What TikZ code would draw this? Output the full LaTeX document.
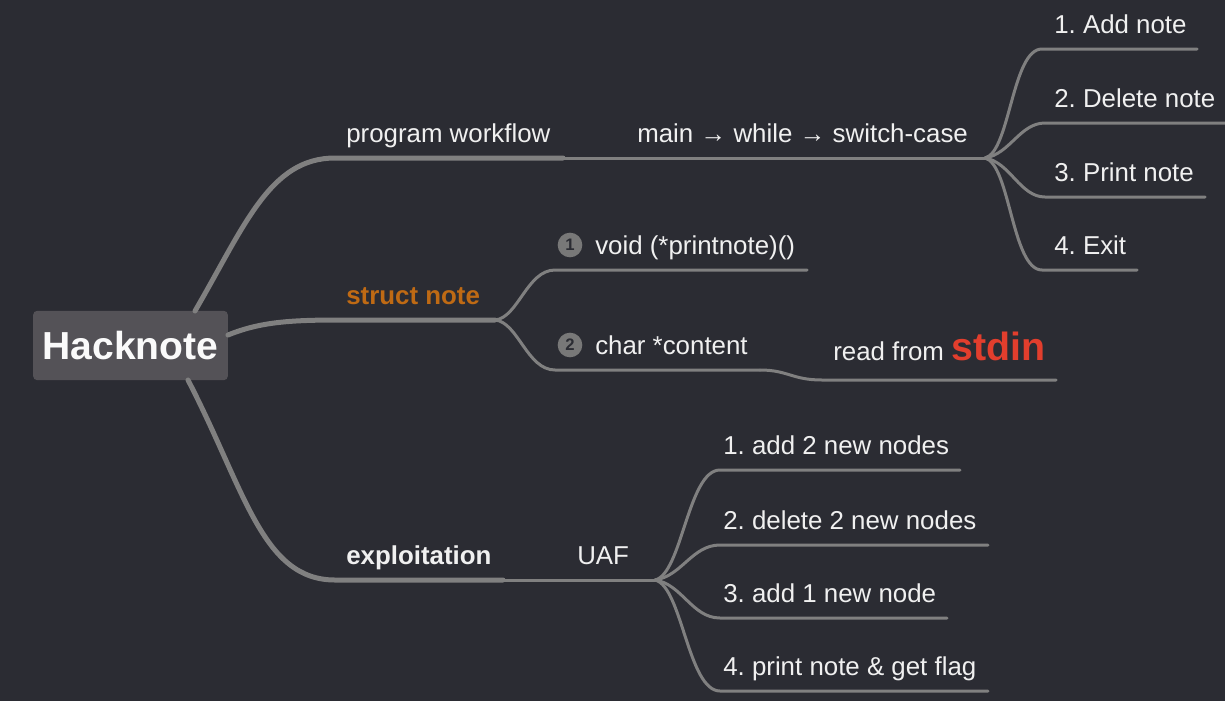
\documentclass[tikz,border=0pt]{standalone}
\usepackage{fontspec}
\setmainfont{Liberation Sans}
\usepackage{tikz}
\frenchspacing

\begin{document}
\begin{tikzpicture}[x=0.75pt,y=0.75pt,yscale=-1,xscale=1,
  branch/.style={draw={rgb, 255:red, 128; green, 128; blue, 128}, line width=3.75pt, line cap=round},
  twig/.style={draw={rgb, 255:red, 128; green, 128; blue, 128}, line width=2.25pt, line cap=round},
  txt/.style={anchor=base west, inner sep=0pt, text={rgb, 255:red, 240; green, 240; blue, 240}, font=\fontsize{19.4}{23}\selectfont},
  numdot/.style={circle, fill={rgb, 255:red, 120; green, 120; blue, 120}, minimum size=18.5pt, inner sep=0pt, text={rgb, 255:red, 43; green, 44; blue, 51}, font=\bfseries\fontsize{12.5}{13}\selectfont}]
\useasboundingbox (0,0) rectangle (1225,701);
%Shape: Rectangle [id:bg]
\fill [color={rgb, 255:red, 43; green, 44; blue, 51 }] (0,0) rectangle (1225,701);

%Shape: Rounded Rect [id:root]
\node (hack) [fill={rgb, 255:red, 84; green, 82; blue, 87}, rounded corners=3pt, minimum width=146pt, minimum height=52pt, text={rgb, 255:red, 250; green, 250; blue, 250}, font=\bfseries\fontsize{29.3}{32}\selectfont] at (130.5,345.5) {Hacknote};

%Coordinates of branch ends
\coordinate (r1) at (195,311);
\coordinate (r2) at (228,335);
\coordinate (r3) at (188,380);
\coordinate (pwend) at (563,158);
\coordinate (pwfork) at (985,158);
\coordinate (snfork) at (495,320);
\coordinate (cend) at (760,370);
\coordinate (exend) at (503,580);
\coordinate (uaffork) at (655,580);

% Text Node
\node (pw) [txt] at (346,142) {program workflow};
\node (mws) [txt] at (637,142) {main → while → switch-case};
\node (add) [txt] at (1054,33) {1. Add note};
\node (del) [txt] at (1054,107) {2. Delete note};
\node (prt) [txt] at (1054,181) {3. Print note};
\node (ext) [txt] at (1054,254) {4. Exit};
\node (sn) [txt, text={rgb, 255:red, 191; green, 106; blue, 20}, font=\bfseries\fontsize{19.4}{23}\selectfont] at (346,304) {struct note};
\node (vp) [txt] at (595,254) {void (*printnote)()};
\node (cc) [txt] at (595,354) {char *content};
\node (n1) [numdot] at (570,245) {1};
\node (n2) [numdot] at (570,345) {2};
\node (rd) [txt] at (833,360) {read from \textcolor[RGB]{226,62,45}{\bfseries\fontsize{29.5}{32}\selectfont stdin}};
\node (ex) [txt, font=\bfseries\fontsize{19.4}{23}\selectfont] at (346,564) {exploitation};
\node (uaf) [txt] at (577,564) {UAF};
\node (s1) [txt] at (723,454) {1. add 2 new nodes};
\node (s2) [txt] at (723,529) {2. delete 2 new nodes};
\node (s3) [txt] at (723,602) {3. add 1 new node};
\node (s4) [txt] at (723,675) {4. print note \& get flag};

%Curve Lines [id:program workflow]
\draw [branch] (r1) .. controls (245,225) and (270,158) .. (335,158) -- (pwend);
\draw [twig] (pwend) -- (pwfork);
\draw [twig] (pwfork) .. controls (1010,152) and (1012,49) .. (1042,49) -- (1197,49);
\draw [twig] (pwfork) .. controls (1010,154) and (1020,123) .. (1045,123) -- (1226,123);
\draw [twig] (pwfork) .. controls (1010,162) and (1020,197) .. (1045,197) -- (1205,197);
\draw [twig] (pwfork) .. controls (1010,164) and (1012,270) .. (1042,270) -- (1137,270);

%Curve Lines [id:struct note]
\draw [branch] (r2) .. controls (260,322) and (290,320) .. (340,320) -- (snfork);
\draw [twig] (snfork) .. controls (518,318) and (527,270) .. (555,270) -- (807,270);
\draw [twig] (snfork) .. controls (518,322) and (527,370) .. (555,370) -- (cend);
\draw [twig] (cend) .. controls (788,370) and (792,380) .. (822,380) -- (1056,380);

%Curve Lines [id:exploitation]
\draw [branch] (r3) .. controls (245,490) and (262,580) .. (335,580) -- (exend);
\draw [twig] (exend) -- (uaffork);
\draw [twig] (uaffork) .. controls (682,574) and (688,470) .. (720,470) -- (960,470);
\draw [twig] (uaffork) .. controls (682,576) and (692,545) .. (720,545) -- (988,545);
\draw [twig] (uaffork) .. controls (682,584) and (692,618) .. (720,618) -- (947,618);
\draw [twig] (uaffork) .. controls (682,586) and (688,691) .. (720,691) -- (988,691);

\end{tikzpicture}
\end{document}
